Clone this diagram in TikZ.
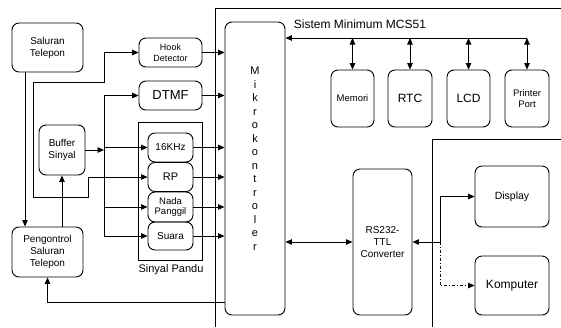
\documentclass[tikz,border=0pt]{standalone}
\usepackage{fontspec}
\setmainfont{Liberation Sans}
\usetikzlibrary{arrows.meta}

\begin{document}
\begin{tikzpicture}[x=1pt, y=-1pt, line width=0.9pt,
        blok/.style={draw, rounded corners=7pt, align=center, inner sep=1pt},
        arr/.style={-{Triangle[length=6.5pt, width=5.5pt]}},
        arrdua/.style={{Triangle[length=6.5pt, width=5.5pt]}-{Triangle[length=6.5pt, width=5.5pt]}}]
        \useasboundingbox (0,0) rectangle (561,327);

        \draw (215,327) -- (215,8) -- (561,8);
        \draw (432,327) -- (432,139) -- (561,139);
        \node[font=\fontsize{12}{14}\selectfont] (sistem) at (360,24) {Sistem Minimum MCS51};

        \node[blok, minimum width=71pt, minimum height=49pt, font=\fontsize{10}{12}\selectfont] (saluran) at (47.5,47.5) {Saluran\\Telepon};
        \node[blok, minimum width=63pt, minimum height=29pt, font=\fontsize{9}{11}\selectfont] (hook) at (170.5,52.5) {Hook\\Detector};
        \node[blok, minimum width=63pt, minimum height=29pt, font=\fontsize{13}{15}\selectfont] (dtmf) at (170.5,95.5) {DTMF};
        \node[blok, minimum width=46pt, minimum height=50pt, font=\fontsize{10}{12}\selectfont] (buffer) at (62,150) {Buffer\\Sinyal};
        \node[blok, minimum width=71pt, minimum height=50pt, font=\fontsize{10}{12}\selectfont] (pengontrol) at (47.5,252) {Pengontrol\\Saluran\\Telepon};

        \node[draw, minimum width=64pt, minimum height=138pt, inner sep=0pt] (pandu) at (170,191) {};
        \node[font=\fontsize{11}{13}\selectfont] (pandulabel) at (171,270) {Sinyal Pandu};
        \node[blok, minimum width=45pt, minimum height=29pt, font=\fontsize{10}{12}\selectfont] (khz) at (170.5,147.5) {16KHz};
        \node[blok, minimum width=45pt, minimum height=29pt, font=\fontsize{11}{13}\selectfont] (rp) at (170.5,177) {RP};
        \node[blok, minimum width=45pt, minimum height=30pt, font=\fontsize{9.5}{10}\selectfont] (nada) at (170.5,207) {Nada\\Panggil};
        \node[blok, minimum width=45pt, minimum height=28pt, font=\fontsize{10}{12}\selectfont] (suara) at (170.5,236) {Suara};

        \node[blok, minimum width=60pt, minimum height=293pt, font=\fontsize{11}{13.5}\selectfont] (mikro) at (255,168.5) {M\\i\\k\\r\\o\\k\\o\\n\\t\\r\\o\\l\\e\\r\\[6pt]};

        \node[blok, minimum width=43pt, minimum height=57pt, font=\fontsize{9.5}{11}\selectfont] (memori) at (352.5,98.5) {Memori};
        \node[blok, minimum width=44pt, minimum height=57pt, font=\fontsize{12}{14}\selectfont] (rtc) at (410,98.5) {RTC};
        \node[blok, minimum width=43pt, minimum height=57pt, font=\fontsize{12}{14}\selectfont] (lcd) at (468.5,98.5) {LCD};
        \node[blok, minimum width=44pt, minimum height=57pt, font=\fontsize{9.5}{11}\selectfont] (printer) at (527,98.5) {Printer\\Port};

        \node[blok, minimum width=59pt, minimum height=146pt, font=\fontsize{10}{12}\selectfont] (rs232) at (382.5,242) {RS232-\\TTL\\Converter};
        \node[blok, minimum width=74pt, minimum height=61pt, font=\fontsize{10.5}{12}\selectfont] (display) at (512,196.5) {Display};
        \node[blok, minimum width=74pt, minimum height=59pt, font=\fontsize{12}{14}\selectfont] (komputer) at (512,285.5) {Komputer};

        \coordinate (jhook) at (33,197);
        \coordinate (jbuf) at (104,150);
        \coordinate (bus) at (527,38);
        \coordinate (jkom) at (440,242);

        \draw[arr] ([xshift=-22.5pt]saluran.south) -- ([xshift=-22.5pt]pengontrol.north);
        \draw[arr] (pengontrol.north -| buffer.south) -- (buffer.south);
        \draw[arr] (jhook) |- (104,82) |- (hook.west);
        \draw[arr] (jhook) -| (88,177) -- (rp.west);
        \draw[arr] (buffer.east) -- (jbuf);
        \draw[arr] (jbuf) |- (dtmf.west);
        \draw[arr] (khz.west -| jbuf) -- (khz.west);
        \draw[arr] (jbuf) |- (nada.west);
        \draw[arr] (jbuf) |- (suara.west);

        \draw[arr] (hook.east) -- (hook.east -| mikro.west);
        \draw[arr] (dtmf.east) -- (dtmf.east -| mikro.west);
        \draw[arr] (khz.east) -- (khz.east -| mikro.west);
        \draw[arr] (rp.east) -- (rp.east -| mikro.west);
        \draw[arr] (nada.east) -- (nada.east -| mikro.west);
        \draw[arr] (suara.east) -- (suara.east -| mikro.west);
        \draw[arr] ([yshift=13pt]mikro.south west) -| (pengontrol.south);

        \draw[arr] (bus) -- (bus -| mikro.east);
        \draw[arrdua] (bus -| memori.north) -- (memori.north);
        \draw[arrdua] (bus -| rtc.north) -- (rtc.north);
        \draw[arrdua] (bus -| lcd.north) -- (lcd.north);
        \draw[arrdua] (bus -| printer.north) -- (printer.north);

        \draw[arrdua] (mikro.east |- rs232.west) -- (rs232.west);
        \draw[arr] (jkom) -- (rs232.east);
        \draw[arr] (jkom) |- (display.west);
        \draw[arr, dash dot] (jkom) |- (komputer.west);
    \end{tikzpicture}
\end{document}
